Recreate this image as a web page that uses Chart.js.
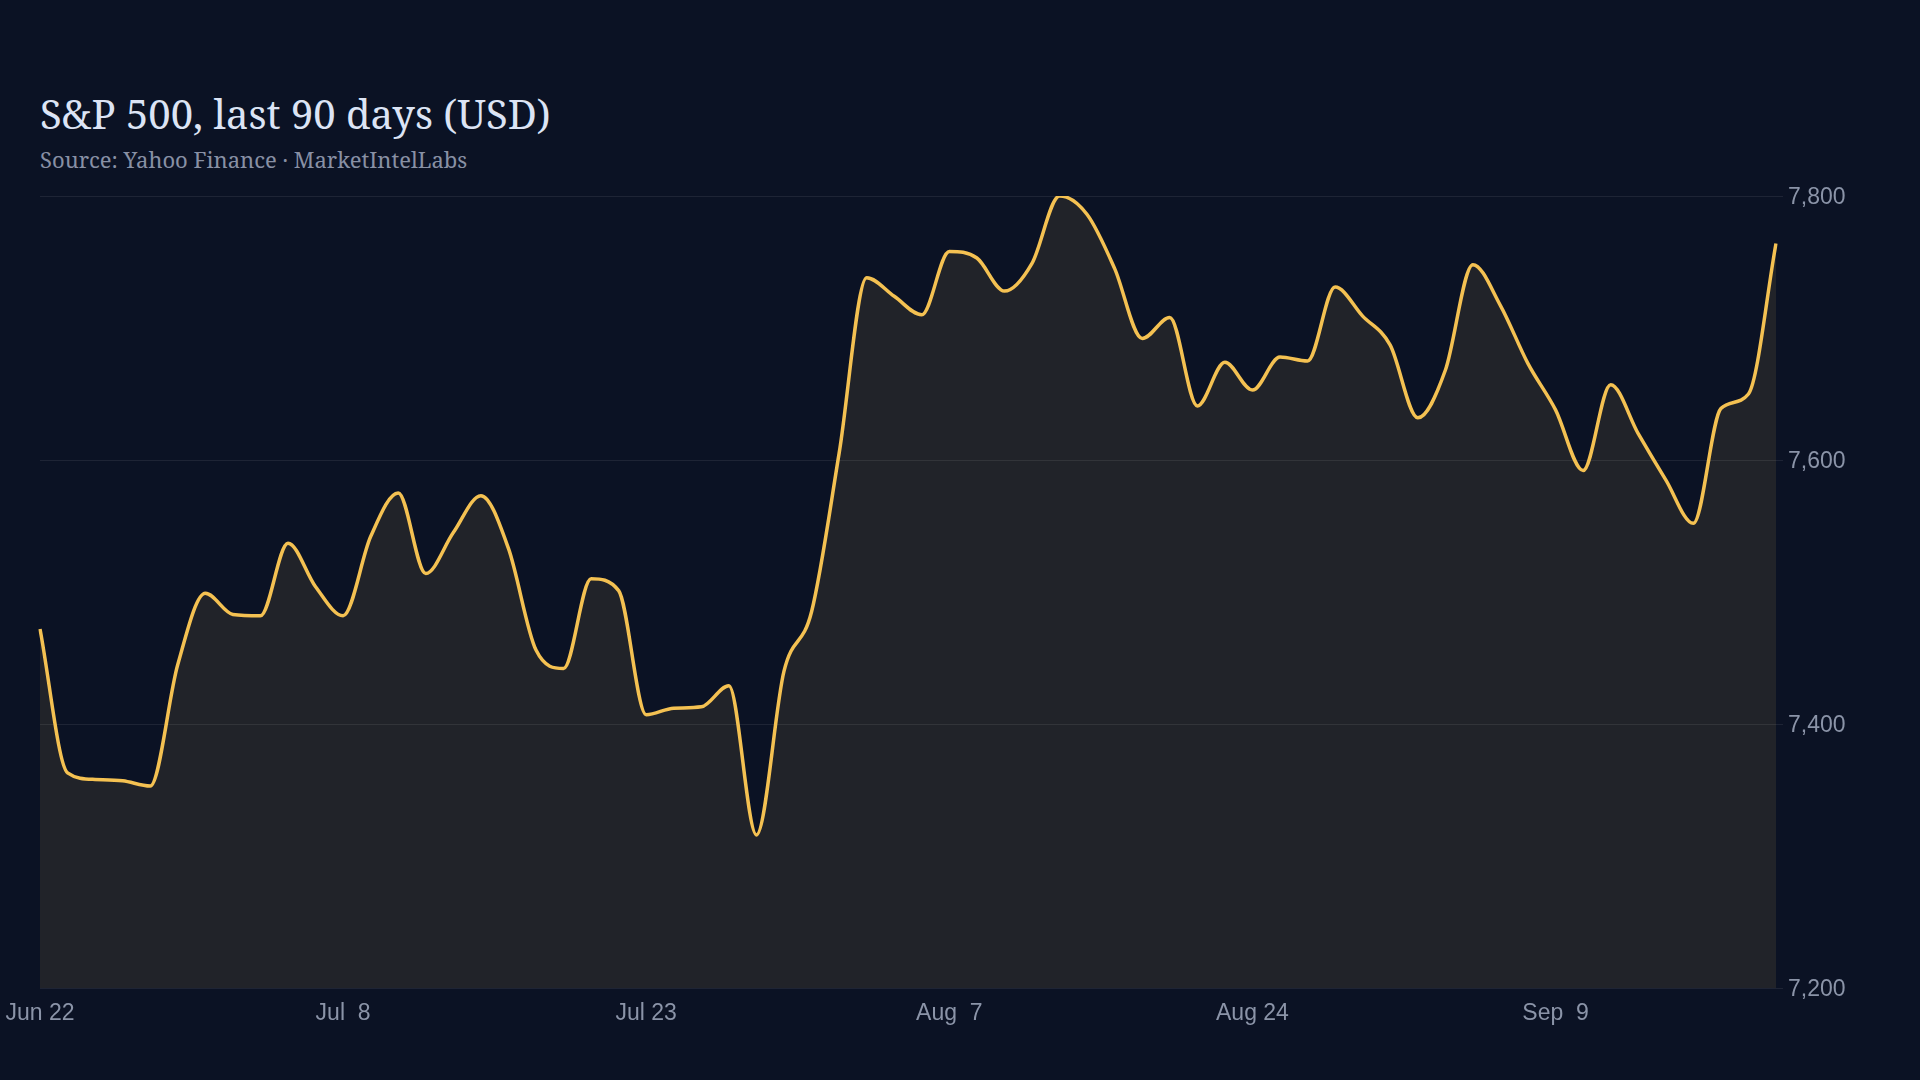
<!DOCTYPE html>
<html lang="en">
<head>
<meta charset="utf-8">
<title>S&amp;P 500, last 90 days</title>
<script src="https://cdn.jsdelivr.net/npm/chart.js@4.4.1/dist/chart.umd.min.js"></script>
<style>
  html, body { margin: 0; padding: 0; background: #0b1224; overflow: hidden; }
  #wrap { position: relative; width: 1920px; height: 1080px; }
  #grafico { position: absolute; left: 0; top: 0; }
  .titulo {
    position: absolute; left: 40px; top: 94px; margin: 0;
    font-family: "Noto Serif", "DejaVu Serif", serif; font-weight: 400;
    font-size: 40px; line-height: 40px; color: #dce4f5; white-space: nowrap;
  }
  .subtitulo {
    position: absolute; left: 40px; top: 148px; margin: 0;
    font-family: "Noto Serif", "DejaVu Serif", serif;
    font-size: 22px; line-height: 22px; color: #8890a4; white-space: nowrap;
  }
</style>
</head>
<body>
<div id="wrap">
  <h1 class="titulo">S&amp;P 500, last 90 days (USD)</h1>
  <p class="subtitulo">Source: Yahoo Finance · MarketIntelLabs</p>
  <canvas id="grafico" width="1920" height="1080"></canvas>
</div>
<script>
// trading days (Jul 3 and Sep 7 closed)
const fechas = [
  'Jun 22', 'Jun 23', 'Jun 24', 'Jun 25', 'Jun 26', 'Jun 29', 'Jun 30', 'Jul  1',
  'Jul  2', 'Jul  6', 'Jul  7', 'Jul  8', 'Jul  9', 'Jul 10', 'Jul 13', 'Jul 14',
  'Jul 15', 'Jul 16', 'Jul 17', 'Jul 20', 'Jul 21', 'Jul 22', 'Jul 23', 'Jul 24',
  'Jul 27', 'Jul 28', 'Jul 29', 'Jul 30', 'Jul 31', 'Aug  3', 'Aug  4', 'Aug  5',
  'Aug  6', 'Aug  7', 'Aug 10', 'Aug 11', 'Aug 12', 'Aug 13', 'Aug 14', 'Aug 17',
  'Aug 18', 'Aug 19', 'Aug 20', 'Aug 21', 'Aug 24', 'Aug 25', 'Aug 26', 'Aug 27',
  'Aug 28', 'Aug 31', 'Sep  1', 'Sep  2', 'Sep  3', 'Sep  4', 'Sep  8', 'Sep  9',
  'Sep 10', 'Sep 11', 'Sep 14', 'Sep 15', 'Sep 16', 'Sep 17', 'Sep 18', 'Sep 21'
];

// closing values
const cierres = [
  7472, 7363, 7358, 7357, 7353, 7445, 7499, 7483,
  7482, 7537, 7504, 7482, 7542, 7575, 7514, 7545,
  7573, 7533, 7456, 7442, 7510, 7501, 7407, 7412,
  7413, 7429, 7316, 7440, 7485, 7605, 7738, 7724,
  7710, 7758, 7753, 7728, 7749, 7800, 7786, 7745,
  7692, 7708, 7641, 7674, 7653, 7678, 7675, 7731,
  7709, 7687, 7632, 7668, 7748, 7717, 7673, 7638,
  7592, 7657, 7620, 7585, 7552, 7639, 7650, 7764
];

// y axis ticks
const ticksY = [7200, 7400, 7600, 7800];
// every 11th trading day gets a label
const pasoEtiquetas = 11;

const colorLinea = '#f4c152';
const colorTexto = '#8b94a8';
const fuenteEjes = { family: '"Liberation Sans", Arial, sans-serif', size: 23 };

const ctx = document.getElementById('grafico').getContext('2d');

const grafico = new Chart(ctx, {
  type: 'line',
  data: {
    labels: fechas,
    datasets: [{
      data: cierres,
      borderColor: colorLinea,
      borderWidth: 3.5,
      backgroundColor: 'rgba(250, 215, 95, 0.09)',
      fill: 'start',
      pointRadius: 0,
      pointHoverRadius: 0,
      cubicInterpolationMode: 'monotone'
    }]
  },
  options: {
    responsive: false,
    animation: false,
    devicePixelRatio: 1,
    layout: { padding: { left: 40, top: 196, right: 0, bottom: 0 } },
    plugins: {
      legend: { display: false },
      tooltip: { enabled: false }
    },
    scales: {
      x: {
        type: 'category',
        offset: false,
        grid: { display: false },
        border: { display: false },
        ticks: {
          color: colorTexto,
          font: fuenteEjes,
          padding: 4,
          maxRotation: 0,
          autoSkip: false,
          callback: function (value) { return this.getLabelForValue(value); }
        },
        afterBuildTicks: (eje) => {
          eje.ticks = eje.ticks.filter((t) => t.value % pasoEtiquetas === 0);
        },
        afterFit: (eje) => {
          eje.height = 92;
          eje.paddingLeft = 0;
          eje.paddingRight = 0;
        }
      },
      y: {
        position: 'right',
        min: ticksY[0],
        max: ticksY[ticksY.length - 1],
        grid: {
          color: 'rgba(255, 255, 255, 0.08)',
          lineWidth: 1,
          drawTicks: true,
          tickLength: 7
        },
        border: { display: false },
        ticks: {
          color: colorTexto,
          font: fuenteEjes,
          padding: 5,
          labelOffset: 2,
          callback: (v) => v.toLocaleString('en-US')
        },
        afterBuildTicks: (eje) => {
          eje.ticks = ticksY.map((v) => ({ value: v }));
        },
        afterFit: (eje) => {
          eje.width = 144;
          eje.paddingTop = 0;
          eje.paddingBottom = 0;
        }
      }
    }
  }
});
</script>
</body>
</html>
